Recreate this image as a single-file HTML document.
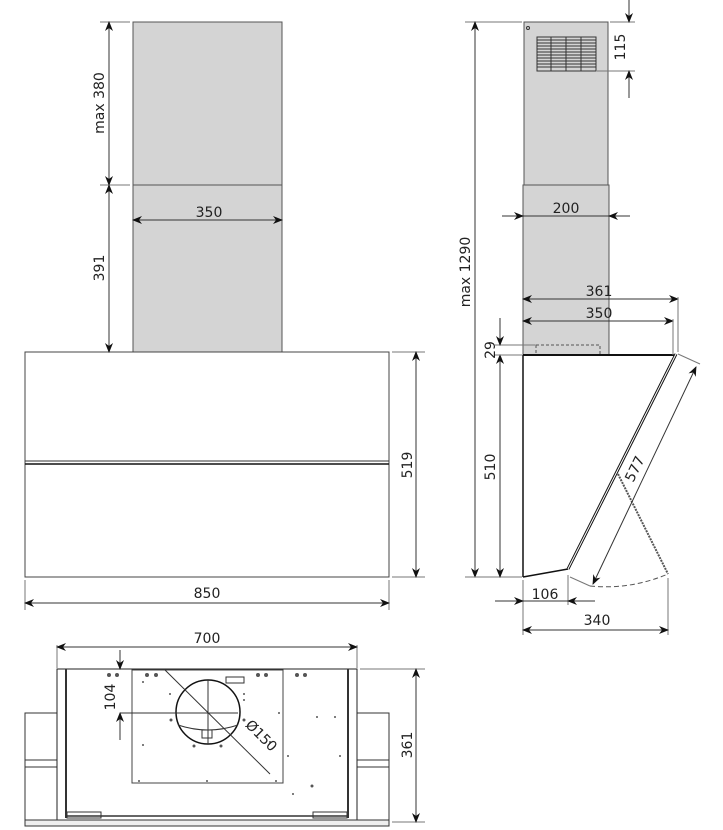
<!DOCTYPE html>
<html><head><meta charset="utf-8"><style>
html,body{margin:0;padding:0;background:#fff}
svg{display:block}
text{font-family:"DejaVu Sans","Liberation Sans",sans-serif;font-size:14px;fill:#222}
</style></head><body>
<svg width="723" height="830" viewBox="0 0 723 830" xmlns="http://www.w3.org/2000/svg">
<defs>
<marker id="a" markerWidth="10" markerHeight="8" refX="9" refY="4" orient="auto-start-reverse" markerUnits="userSpaceOnUse"><path d="M0,0 L10,4 L0,8 L3,4 Z" fill="#111"/></marker>
</defs>
<g stroke="#333" stroke-width="1" fill="none">
<!-- FRONT VIEW -->
<rect x="133" y="22" width="149" height="163" fill="#d4d4d4" stroke="#555"/>
<rect x="133" y="185" width="149" height="167" fill="#d4d4d4" stroke="#555"/>
<rect x="25" y="352" width="364" height="225" stroke="#444"/>
<line x1="25" y1="461" x2="389" y2="461"/>
<line x1="25" y1="464" x2="389" y2="464" stroke="#111" stroke-width="1.5"/>
<line x1="130" y1="22" x2="100" y2="22" stroke="#777"/>
<line x1="130" y1="185" x2="100" y2="185" stroke="#777"/>
<line x1="109" y1="22" x2="109" y2="185" marker-start="url(#a)" marker-end="url(#a)"/>
<line x1="109" y1="185" x2="109" y2="352" marker-start="url(#a)" marker-end="url(#a)"/>
<line x1="133" y1="220" x2="282" y2="220" marker-start="url(#a)" marker-end="url(#a)"/>
<line x1="392" y1="352" x2="425" y2="352" stroke="#777"/>
<line x1="392" y1="577" x2="425" y2="577" stroke="#777"/>
<line x1="416" y1="352" x2="416" y2="577" marker-start="url(#a)" marker-end="url(#a)"/>
<line x1="25" y1="580" x2="25" y2="610" stroke="#777"/>
<line x1="389" y1="580" x2="389" y2="610" stroke="#777"/>
<line x1="25" y1="603" x2="389" y2="603" marker-start="url(#a)" marker-end="url(#a)"/>

<!-- SIDE VIEW -->
<rect x="524" y="22" width="84" height="163" fill="#d4d4d4" stroke="#555"/>
<rect x="523" y="185" width="86" height="170" fill="#d4d4d4" stroke="#555"/>
<circle cx="528" cy="28" r="1.5"/>
<g stroke="#333" stroke-width="1">
<rect x="537" y="37" width="59" height="34" fill="#d4d4d4"/>
<path d="M537 40H596M537 43H596M537 46H596M537 49H596M537 52H596M537 55H596M537 58H596M537 61H596M537 64H596M537 67H596M551 37V71M566 37V71M581 37V71"/>
</g>
<rect x="536" y="345" width="64" height="10" stroke-dasharray="3,2" stroke="#555"/>
<line x1="523" y1="355" x2="674" y2="355" stroke="#111" stroke-width="2"/>
<line x1="523" y1="355" x2="523" y2="577" stroke="#111" stroke-width="1.5"/>
<line x1="523" y1="577" x2="568" y2="569" stroke="#111" stroke-width="1.5"/>
<line x1="568" y1="569" x2="676" y2="354" stroke="#111" stroke-width="3"/>
<line x1="568" y1="569" x2="676" y2="354" stroke="#fff" stroke-width="1"/>
<path d="M618 474 L668 574" stroke="#555" stroke-dasharray="2,1" stroke-width="2"/>
<path d="M590 586 Q630 590 668 574" stroke="#555" stroke-dasharray="5,3"/>
<line x1="570" y1="577" x2="590" y2="586" stroke="#777"/>
<line x1="678" y1="354" x2="700" y2="364" stroke="#777"/>
<line x1="593" y1="584" x2="696" y2="367" marker-start="url(#a)" marker-end="url(#a)"/>
<line x1="465" y1="22" x2="522" y2="22" stroke="#777"/>
<line x1="475" y1="22" x2="475" y2="577" marker-start="url(#a)" marker-end="url(#a)"/>
<line x1="465" y1="577" x2="522" y2="577" stroke="#777"/>
<line x1="610" y1="22" x2="635" y2="22" stroke="#777"/>
<line x1="597" y1="71" x2="635" y2="71" stroke="#777"/>
<line x1="629" y1="0" x2="629" y2="22" marker-end="url(#a)"/>
<line x1="629" y1="98" x2="629" y2="71" marker-end="url(#a)"/>
<line x1="502" y1="216" x2="630" y2="216"/>
<line x1="502" y1="216" x2="523" y2="216" marker-end="url(#a)"/>
<line x1="630" y1="216" x2="609" y2="216" marker-end="url(#a)"/>
<line x1="523" y1="299" x2="678" y2="299" marker-start="url(#a)" marker-end="url(#a)"/>
<line x1="678" y1="297" x2="678" y2="352" stroke="#777"/>
<line x1="523" y1="321" x2="673" y2="321" marker-start="url(#a)" marker-end="url(#a)"/>
<line x1="673" y1="319" x2="673" y2="355" stroke="#777"/>
<line x1="495" y1="345" x2="535" y2="345" stroke="#777"/>
<line x1="500" y1="318" x2="500" y2="345" marker-end="url(#a)"/>
<line x1="500" y1="355" x2="500" y2="577" marker-start="url(#a)" marker-end="url(#a)"/>
<line x1="495" y1="355" x2="522" y2="355" stroke="#777"/>
<line x1="523" y1="580" x2="523" y2="635" stroke="#777"/>
<line x1="568" y1="575" x2="568" y2="605" stroke="#777"/>
<line x1="668" y1="578" x2="668" y2="635" stroke="#777"/>
<line x1="495" y1="601" x2="595" y2="601"/>
<line x1="495" y1="601" x2="523" y2="601" marker-end="url(#a)"/>
<line x1="595" y1="601" x2="568" y2="601" marker-end="url(#a)"/>
<line x1="523" y1="630" x2="668" y2="630" marker-start="url(#a)" marker-end="url(#a)"/>

<!-- BOTTOM VIEW -->
<line x1="57" y1="645" x2="57" y2="668" stroke="#777"/>
<line x1="357" y1="645" x2="357" y2="668" stroke="#777"/>
<line x1="57" y1="647" x2="357" y2="647" marker-start="url(#a)" marker-end="url(#a)"/>
<rect x="25" y="713" width="32" height="107"/>
<line x1="25" y1="760" x2="57" y2="760"/><line x1="25" y1="767" x2="57" y2="767"/>
<rect x="357" y="713" width="32" height="107"/>
<line x1="357" y1="760" x2="389" y2="760"/><line x1="357" y1="767" x2="389" y2="767"/>
<rect x="57" y="669" width="300" height="151" stroke="#222"/>
<line x1="66" y1="669" x2="66" y2="818" stroke-width="2"/>
<line x1="348" y1="669" x2="348" y2="818" stroke-width="2"/>
<line x1="66" y1="816" x2="348" y2="816" stroke-width="1.5"/>
<rect x="25" y="820" width="364" height="6" fill="#eee"/>
<rect x="67" y="812" width="34" height="6"/><rect x="313" y="812" width="34" height="6"/>
<rect x="132" y="670" width="151" height="113" stroke="#444"/>
<circle cx="208" cy="712" r="32" stroke="#111" stroke-width="1.5"/>
<line x1="208" y1="680" x2="208" y2="744"/>
<line x1="178" y1="713" x2="238" y2="713"/>
<line x1="120" y1="713" x2="205" y2="713"/>
<path d="M178 725 Q208 735 238 725"/>
<rect x="202" y="730" width="10" height="8"/>
<rect x="226" y="677" width="18" height="6"/>
<line x1="165" y1="670" x2="270" y2="774"/>
<line x1="120" y1="650" x2="120" y2="669" marker-end="url(#a)"/>
<line x1="120" y1="740" x2="120" y2="713" marker-end="url(#a)"/>
<line x1="360" y1="669" x2="425" y2="669" stroke="#777"/>
<line x1="392" y1="822" x2="425" y2="822" stroke="#777"/>
<line x1="416" y1="669" x2="416" y2="822" marker-start="url(#a)" marker-end="url(#a)"/>
</g>
<g fill="#555">
<circle cx="109" cy="675" r="2"/><circle cx="117" cy="675" r="2"/>
<circle cx="147" cy="675" r="2"/><circle cx="156" cy="675" r="2"/>
<circle cx="258" cy="675" r="2"/><circle cx="266" cy="675" r="2"/>
<circle cx="297" cy="675" r="2"/><circle cx="305" cy="675" r="2"/>
<circle cx="143" cy="682" r="1"/><circle cx="170" cy="694" r="1"/><circle cx="244" cy="694" r="1"/>
<circle cx="171" cy="720" r="1.5"/><circle cx="244" cy="720" r="1.5"/><circle cx="244" cy="700" r="1"/>
<circle cx="279" cy="713" r="1"/><circle cx="317" cy="717" r="1"/><circle cx="335" cy="717" r="1"/>
<circle cx="143" cy="745" r="1"/><circle cx="270" cy="742" r="1"/><circle cx="288" cy="756" r="1"/>
<circle cx="194" cy="746" r="1.5"/><circle cx="221" cy="746" r="1.5"/><circle cx="340" cy="756" r="1"/>
<circle cx="139" cy="781" r="1"/><circle cx="207" cy="781" r="1"/><circle cx="276" cy="781" r="1"/>
<circle cx="312" cy="786" r="1.5"/><circle cx="293" cy="794" r="1"/>
</g>
<text transform="translate(104,103) rotate(-90)" text-anchor="middle">max 380</text>
<text transform="translate(104,268) rotate(-90)" text-anchor="middle">391</text>
<text x="209" y="217" text-anchor="middle">350</text>
<text transform="translate(412,465) rotate(-90)" text-anchor="middle">519</text>
<text x="207" y="598" text-anchor="middle">850</text>
<text transform="translate(470,272) rotate(-90)" text-anchor="middle">max 1290</text>
<text transform="translate(625,47) rotate(-90)" text-anchor="middle">115</text>
<text x="566" y="213" text-anchor="middle">200</text>
<text x="599" y="296" text-anchor="middle">361</text>
<text x="599" y="318" text-anchor="middle">350</text>
<text transform="translate(495,350) rotate(-90)" text-anchor="middle">29</text>
<text transform="translate(495,467) rotate(-90)" text-anchor="middle">510</text>
<text transform="translate(639,471) rotate(-64)" text-anchor="middle">577</text>
<text x="545" y="599" text-anchor="middle">106</text>
<text x="597" y="625" text-anchor="middle">340</text>
<text x="207" y="643" text-anchor="middle">700</text>
<text transform="translate(115,697) rotate(-90)" text-anchor="middle">104</text>
<text transform="translate(258,739) rotate(45)" text-anchor="middle">Ø150</text>
<text transform="translate(412,745) rotate(-90)" text-anchor="middle">361</text>
</svg>
</body></html>
